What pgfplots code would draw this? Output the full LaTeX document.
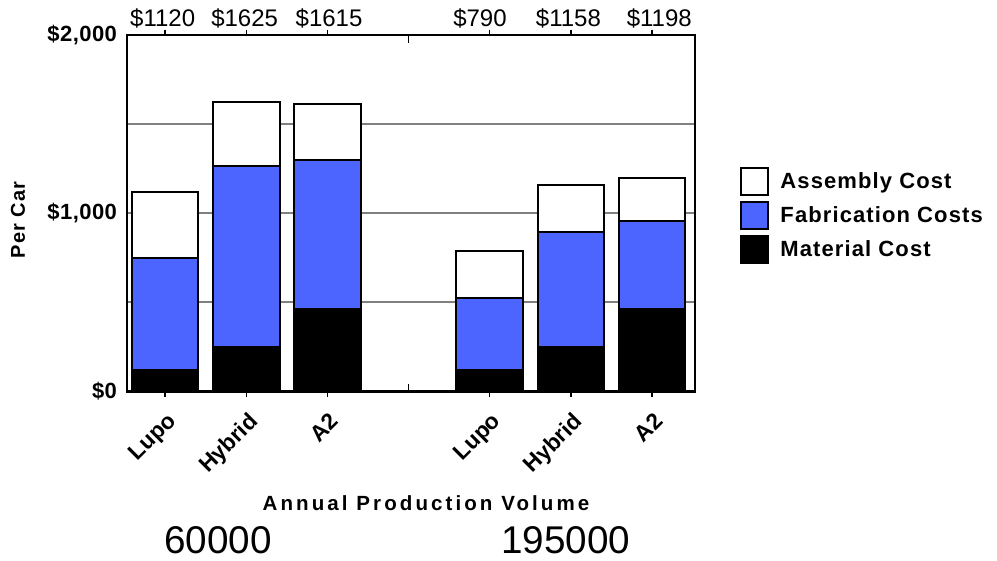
\documentclass[border=0pt]{standalone}
\usepackage{pgfplots}
\pgfplotsset{compat=1.18}
\usetikzlibrary{calc}
\usepackage{fontspec}
\setmainfont{Liberation Sans}
\newfontfamily\bspa{Liberation Sans}[LetterSpace=5]
\newfontfamily\bspb{Liberation Sans}[LetterSpace=15]
\newfontfamily\bspc{Liberation Sans}[LetterSpace=2]
\definecolor{fabblue}{RGB}{76,101,255}
\definecolor{gridgray}{RGB}{128,128,128}
\begin{document}
\begin{tikzpicture}[x=0.75pt,y=0.75pt]
\begin{axis}[
  scale only axis, width=426pt, height=267.4pt,
  xmin=-0.47, xmax=6.53, ymin=0, ymax=2000,
  ybar stacked, bar width=0.82,
  clip=false,
  axis line style={line width=2pt},
  xtick={0,1,2,4,5,6},
  xticklabels={Lupo,Hybrid,A2,Lupo,Hybrid,A2},
  xticklabel style={font=\bfseries\fontsize{17}{19}\selectfont, rotate=45, anchor=north east, inner sep=1pt, xshift=-6pt, yshift=-7pt},
  tick align=outside, major tick length=4pt,
  xtick style={line width=1pt, black},
  extra x ticks={3}, extra x tick labels={},
  extra x tick style={tick align=inside, major tick length=6pt, grid=none},
  ytick={0,500,1000,1500,2000},
  yticklabels={{\$0},{},{\$1,000},{},{\$2,000}},
  yticklabel style={font=\bspc\bfseries\fontsize{16.5}{18}\selectfont},
  ytick style={draw=none},
  ymajorgrids, grid style={gridgray, line width=1.5pt},
  legend style={at={(1.079,0.63)}, anchor=north west, draw=none, fill=none,
    font=\bspa\bfseries\fontsize{16.5}{18}\selectfont, row sep=4pt, inner sep=0pt,
    nodes={inner sep=0.5pt}},
  legend cell align=left,
  reverse legend,
  legend image code/.code={\draw[#1, line width=1.5pt] (0pt,-10pt) rectangle (20pt,10pt);
    \path[draw=none, fill=none] (0pt,0pt) rectangle (29pt,0.1pt);},
]
\addplot[fill=black, draw=black, line width=1.5pt] coordinates {(0,120) (1,250) (2,460) (4,120) (5,250) (6,460)};
\addlegendentry{Material Cost}
\addplot[fill=fabblue, draw=black, line width=1.5pt] coordinates {(0,630) (1,1015) (2,840) (4,404) (5,646) (6,498)};
\addlegendentry{Fabrication Costs}
\addplot[fill=white, draw=black, line width=1.5pt] coordinates {(0,370) (1,360) (2,315) (4,266) (5,262) (6,240)};
\addlegendentry{Assembly Cost}
\node[anchor=base, font=\fontsize{18}{20}\selectfont] at ([yshift=6pt]axis cs:-0.03,2000) {\$1120};
\node[anchor=base, font=\fontsize{18}{20}\selectfont] at ([yshift=6pt]axis cs:0.98,2000) {\$1625};
\node[anchor=base, font=\fontsize{18}{20}\selectfont] at ([yshift=6pt]axis cs:2.02,2000) {\$1615};
\node[anchor=base, font=\fontsize{18}{20}\selectfont] at ([yshift=6pt]axis cs:3.88,2000) {\$790};
\node[anchor=base, font=\fontsize{18}{20}\selectfont] at ([yshift=6pt]axis cs:4.97,2000) {\$1158};
\node[anchor=base, font=\fontsize{18}{20}\selectfont] at ([yshift=6pt]axis cs:6.09,2000) {\$1198};
\coordinate (SW) at (rel axis cs:0,0);
\end{axis}
\coordinate (TL) at ($(SW)+(-127,391.5)$);
\pgfresetboundingbox
\path[use as bounding box] (TL) rectangle ($(TL)+(997,-561)$);
\node[rotate=90, font=\bspa\bfseries\fontsize{15}{17}\selectfont] at ($(TL)+(18,-220)$) {Per Car};
\node[font=\bspb\bfseries\fontsize{15.4}{17}\selectfont] at ($(TL)+(426,-503)$) {Annual Production Volume};
\node[font=\fontsize{29}{32}\selectfont] at ($(TL)+(218,-540)$) {60000};
\node[font=\fontsize{29}{32}\selectfont] at ($(TL)+(566,-540)$) {195000};
\end{tikzpicture}
\end{document}
